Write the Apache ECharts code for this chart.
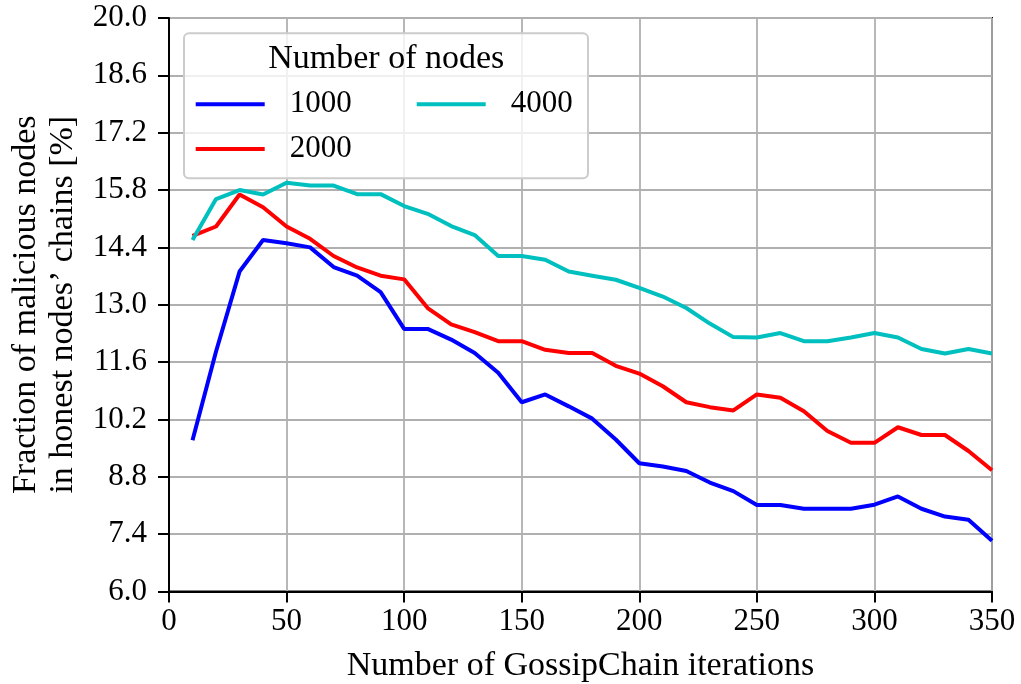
<!DOCTYPE html>
<html>
<head>
<meta charset="utf-8">
<script src="https://cdn.jsdelivr.net/npm/echarts@6/dist/echarts.min.js"></script>
<style>
  html, body { margin: 0; padding: 0; background: #fff; }
  #chart { width: 1021px; height: 684px; }
</style>
</head>
<body>
<div id="chart"></div>
<script>
// GossipChain iterations (x values)
const iterations = [10, 20, 30, 40, 50, 60, 70, 80, 90, 100, 110, 120, 130, 140, 150, 160, 170, 180,
  190, 200, 210, 220, 230, 240, 250, 260, 270, 280, 290, 300, 310, 320, 330, 340, 350];

// Fraction of malicious nodes in honest nodes' chains [%], per network size
const nodes1000 = [9.69, 11.86, 13.81, 14.58, 14.50, 14.40, 13.92, 13.71, 13.31, 12.41, 12.41, 12.15,
  11.82, 11.34, 10.62, 10.81, 10.52, 10.22, 9.71, 9.13, 9.05, 8.94, 8.66, 8.45, 8.11, 8.11, 8.02,
  8.02, 8.02, 8.12, 8.32, 8.02, 7.83, 7.75, 7.24];
const nodes2000 = [14.68, 14.91, 15.69, 15.38, 14.91, 14.61, 14.19, 13.91, 13.71, 13.62, 12.92, 12.52,
  12.33, 12.11, 12.11, 11.90, 11.82, 11.82, 11.51, 11.32, 11.01, 10.62, 10.50, 10.42, 10.81, 10.73,
  10.40, 9.92, 9.63, 9.63, 10.01, 9.82, 9.82, 9.43, 8.96];
const nodes4000 = [14.58, 15.58, 15.80, 15.69, 15.98, 15.91, 15.91, 15.70, 15.70, 15.41, 15.22, 14.92,
  14.70, 14.19, 14.19, 14.10, 13.81, 13.71, 13.61, 13.41, 13.20, 12.92, 12.54, 12.21, 12.20, 12.31,
  12.11, 12.11, 12.20, 12.31, 12.20, 11.92, 11.81, 11.92, 11.81];

const seriesNames = ['1000', '2000', '4000'];
const seriesColors = ['#0000ff', '#ff0000', '#00bfbf'];
const seriesValues = [nodes1000, nodes2000, nodes4000];

const legendTitle = 'Number of nodes';
const xAxisTitle = 'Number of GossipChain iterations';
const yAxisTitle = 'Fraction of malicious nodes\nin honest nodes\u2019 chains [%]';

const FONT = 'Liberation Serif';
const NUM_SIZE = 31;
const WORD_SIZE = 34;

const chart = echarts.init(document.getElementById('chart'), null, { renderer: 'canvas' });

const axisCommon = {
  type: 'value',
  axisLine: { show: true, lineStyle: { color: '#000', width: 2 } },
  axisTick: { show: true, inside: false, length: 11, lineStyle: { color: '#000', width: 2 } },
  splitLine: { show: true, lineStyle: { color: '#b0b0b0', width: 1.8 } },
  nameTextStyle: { fontFamily: FONT, fontSize: WORD_SIZE, color: '#000' }
};

chart.setOption({
  animation: false,
  backgroundColor: '#fff',
  grid: {
    left: 169, right: 29, top: 18, bottom: 92.5,
    outerBoundsMode: 'none', containLabel: false,
    show: true, borderColor: '#000', borderWidth: 2, backgroundColor: 'transparent'
  },
  xAxis: Object.assign({}, axisCommon, {
    min: 0, max: 350, interval: 50,
    name: xAxisTitle, nameLocation: 'middle', nameGap: 58,
    axisLabel: { fontFamily: FONT, fontSize: NUM_SIZE, color: '#000', margin: 15 }
  }),
  yAxis: Object.assign({}, axisCommon, {
    min: 6, max: 20, interval: 1.4,
    name: yAxisTitle, nameLocation: 'middle', nameGap: 86,
    nameTextStyle: { fontFamily: FONT, fontSize: WORD_SIZE, color: '#000', lineHeight: 37, align: 'center' },
    axisLabel: {
      fontFamily: FONT, fontSize: NUM_SIZE, color: '#000', margin: 22,
      formatter: v => v.toFixed(1)
    }
  }),
  legend: [
    {
      data: ['1000', '2000'], orient: 'vertical', left: 195.7, top: 88.8, padding: 0,
      icon: 'rect', itemWidth: 69, itemHeight: 4, itemGap: 13.7, z: 200,
      textStyle: { fontFamily: FONT, fontSize: NUM_SIZE, color: '#000', lineHeight: 31, padding: [0, 0, 0, 20] }
    },
    {
      data: ['4000'], orient: 'vertical', left: 416.7, top: 88.8, padding: 0,
      icon: 'rect', itemWidth: 69, itemHeight: 4, itemGap: 13.7, z: 200,
      textStyle: { fontFamily: FONT, fontSize: NUM_SIZE, color: '#000', lineHeight: 31, padding: [0, 0, 0, 20] }
    }
  ],
  graphic: [
    {
      type: 'rect', z: 100,
      shape: { x: 184, y: 33.3, width: 404, height: 145, r: 5 },
      style: { fill: 'rgba(255,255,255,0.8)', stroke: '#cccccc', lineWidth: 2 }
    },
    {
      type: 'text', z: 201, x: 386.3, y: 59,
      style: {
        text: legendTitle, fontFamily: FONT, fontSize: WORD_SIZE, fill: '#000',
        textAlign: 'center', textVerticalAlign: 'middle'
      }
    }
  ],
  series: seriesNames.map((name, i) => ({
    name: name,
    type: 'line',
    data: iterations.map((x, j) => [x, seriesValues[i][j]]),
    showSymbol: false,
    symbol: 'none',
    color: seriesColors[i],
    lineStyle: { color: seriesColors[i], width: 4 },
    z: 2 + i
  }))
});
</script>
</body>
</html>
